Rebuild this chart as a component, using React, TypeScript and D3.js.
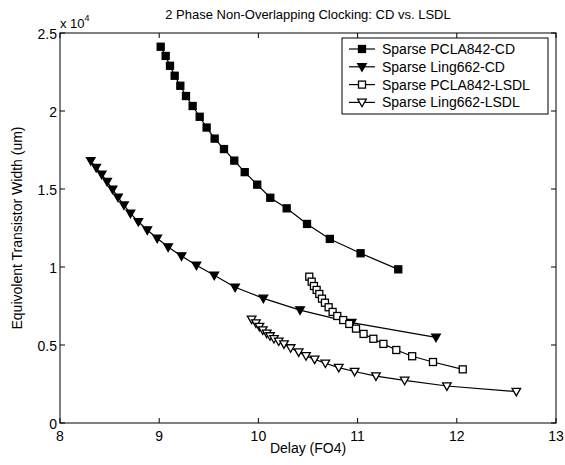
import React from "react";
import * as d3 from "d3";

const xPclaCD = [9.015, 9.065, 9.109, 9.156, 9.213, 9.27, 9.337, 9.408, 9.478, 9.559, 9.653, 9.757, 9.862, 9.988, 10.12, 10.285, 10.49, 10.72, 11.03, 11.41];
const yPclaCD = [24120, 23530, 22900, 22260, 21620, 20960, 20320, 19630, 18940, 18230, 17560, 16820, 16080, 15280, 14440, 13760, 12760, 11800, 10880, 9850];

const xLingCD = [8.31, 8.365, 8.42, 8.475, 8.53, 8.585, 8.645, 8.71, 8.79, 8.88, 8.98, 9.09, 9.225, 9.375, 9.555, 9.765, 10.05, 10.42, 10.94, 11.79];
const yLingCD = [16810, 16370, 15940, 15470, 14980, 14470, 13960, 13440, 12900, 12370, 11840, 11280, 10700, 10110, 9470, 8700, 7990, 7240, 6430, 5490];

const xPclaLSDL = [10.513, 10.537, 10.56, 10.587, 10.614, 10.641, 10.671, 10.708, 10.748, 10.795, 10.855, 10.916, 10.984, 11.06, 11.159, 11.26, 11.39, 11.55, 11.76, 12.06];
const yPclaLSDL = [9380, 9060, 8780, 8530, 8270, 7970, 7710, 7420, 7120, 6860, 6600, 6350, 6050, 5710, 5400, 5070, 4680, 4280, 3910, 3440];

const xLingLSDL = [9.932, 9.975, 10.01, 10.044, 10.084, 10.117, 10.157, 10.205, 10.258, 10.325, 10.406, 10.48, 10.567, 10.675, 10.81, 10.97, 11.185, 11.474, 11.9, 12.6];
const yLingLSDL = [6647, 6400, 6180, 5960, 5750, 5580, 5400, 5240, 5060, 4810, 4550, 4300, 4080, 3830, 3550, 3300, 3010, 2730, 2370, 2010];

const seriesNames = ["Sparse PCLA842-CD", "Sparse Ling662-CD", "Sparse PCLA842-LSDL", "Sparse Ling662-LSDL"];
const xTicks = [8, 9, 10, 11, 12, 13];
const yTicks = [0, 5000, 10000, 15000, 20000, 25000];
const yTickLabels = ["0", "0.5", "1", "1.5", "2", "2.5"];

const W = 565, H = 465;
const L = 60, R = 556, T = 33, B = 423;
const FONT = "'Liberation Sans', Arial, sans-serif";

type Kind = "sq" | "tri";

function Marker({ x, y, kind, filled }: { x: number; y: number; kind: Kind; filled: boolean }) {
  const fill = filled ? "#000" : "#fff";
  if (kind === "sq") {
    const s = 7;
    return <rect x={x - s / 2} y={y - s / 2} width={s} height={s} fill={fill} stroke="#000" strokeWidth={1.3} />;
  }
  const w = 4.3, h = 4.3;
  const p = `M${x - w},${y - h * 0.75} L${x + w},${y - h * 0.75} L${x},${y + h} Z`;
  return <path d={p} fill={fill} stroke="#000" strokeWidth={1.3} />;
}

export default function App() {
  const xs = d3.scaleLinear().domain([8, 13]).range([L, R]);
  const ys = d3.scaleLinear().domain([0, 25000]).range([B, T]);
  const line = d3.line<[number, number]>().x((d) => xs(d[0])).y((d) => ys(d[1]));

  const series = [
    { xv: xPclaCD, yv: yPclaCD, kind: "sq" as Kind, filled: true },
    { xv: xLingCD, yv: yLingCD, kind: "tri" as Kind, filled: true },
    { xv: xPclaLSDL, yv: yPclaLSDL, kind: "sq" as Kind, filled: false },
    { xv: xLingLSDL, yv: yLingLSDL, kind: "tri" as Kind, filled: false },
  ];

  const lg = { x0: 342, y0: 38, x1: 548, y1: 114 };
  const rowH = 17.8;

  return (
    <svg width={W} height={H} style={{ display: "block", position: "absolute", left: 0, top: 0, background: "#fff" }} fontFamily={FONT}>
      <rect x={0} y={0} width={W} height={H} fill="#fff" />
      {xTicks.map((t) => (
        <g key={"x" + t}>
          <line x1={xs(t)} x2={xs(t)} y1={B} y2={B - 5} stroke="#000" />
          <line x1={xs(t)} x2={xs(t)} y1={T} y2={T + 5} stroke="#000" />
          <text x={xs(t)} y={B + 18} textAnchor="middle" fontSize={14}>{t}</text>
        </g>
      ))}
      {yTicks.map((t, i) => (
        <g key={"y" + t}>
          <line x1={L} x2={L + 5} y1={ys(t)} y2={ys(t)} stroke="#000" />
          <line x1={R} x2={R - 5} y1={ys(t)} y2={ys(t)} stroke="#000" />
          <text x={L - 3} y={ys(t) + 6} textAnchor="end" fontSize={14}>{yTickLabels[i]}</text>
        </g>
      ))}
      <rect x={L} y={T} width={R - L} height={B - T} fill="none" stroke="#000" strokeWidth={1} />
      <text x={L} y={T - 5} fontSize={13}>x 10<tspan dy={-7} fontSize={9}>4</tspan></text>
      <text x={(L + R) / 2} y={19} textAnchor="middle" fontSize={13}>2 Phase Non-Overlapping Clocking: CD vs. LSDL</text>
      <text x={(L + R) / 2} y={453} textAnchor="middle" fontSize={14}>Delay (FO4)</text>
      <text transform={`translate(22,${(T + B) / 2}) rotate(-90)`} textAnchor="middle" fontSize={14}>Equivolent Transistor Width (um)</text>

      {series.map((s, si) => {
        const pts = s.xv.map((x, i) => [x, s.yv[i]] as [number, number]);
        return (
          <g key={"s" + si}>
            <path d={line(pts) || ""} fill="none" stroke="#000" strokeWidth={1.2} />
            {pts.map((p, i) => (
              <Marker key={i} x={xs(p[0])} y={ys(p[1])} kind={s.kind} filled={s.filled} />
            ))}
          </g>
        );
      })}

      <rect x={lg.x0} y={lg.y0} width={lg.x1 - lg.x0} height={lg.y1 - lg.y0} fill="#fff" stroke="#000" strokeWidth={1} />
      {series.map((s, i) => {
        const cy = lg.y0 + 11 + i * rowH;
        return (
          <g key={"l" + i}>
            <line x1={lg.x0 + 7} x2={lg.x0 + 33} y1={cy} y2={cy} stroke="#000" strokeWidth={1.2} />
            <Marker x={lg.x0 + 20} y={cy} kind={s.kind} filled={s.filled} />
            <text x={lg.x0 + 40} y={cy + 5} fontSize={14}>{seriesNames[i]}</text>
          </g>
        );
      })}
    </svg>
  );
}
